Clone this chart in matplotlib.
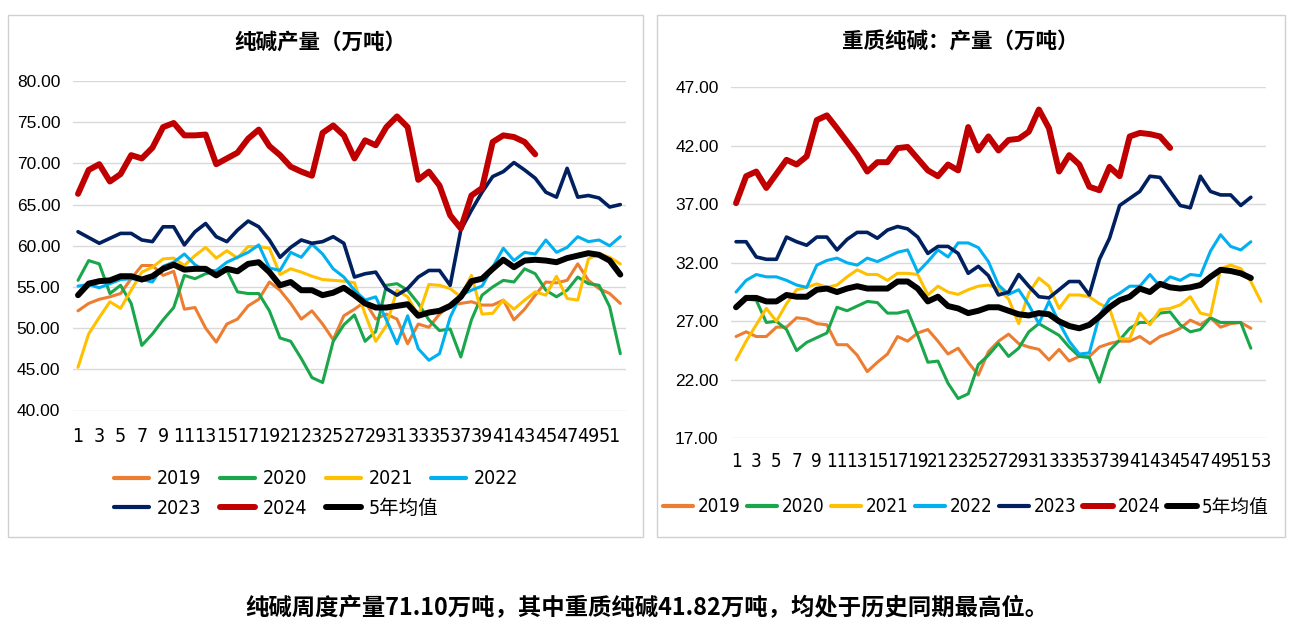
import matplotlib
matplotlib.use("Agg")
import matplotlib.pyplot as plt
from matplotlib import font_manager as fm
from matplotlib.font_manager import FontProperties
from matplotlib.patches import Rectangle
from matplotlib.lines import Line2D

# ---------------- data ----------------
series_names = ["2019", "2020", "2021", "2022", "2023", "2024", "5年均值"]
series_colors = ["#ED7D31", "#1AA64A", "#FFC000", "#00B0F0", "#002060", "#C00000", "#000000"]
series_widths = [2.2, 2.2, 2.2, 2.2, 2.6, 4.3, 4.3]

# left chart: 纯碱产量（万吨）
left_2019 = [52.1, 53.0, 53.5, 53.8, 54.2, 56.0, 57.6, 57.6, 56.4, 56.9,
             52.3, 52.5, 50.0, 48.3, 50.5, 51.1, 52.7, 53.5, 55.6, 54.6,
             53.0, 51.1, 52.1, 50.5, 48.6, 51.5, 52.3, 53.2, 51.1, 51.7,
             51.1, 48.1, 50.5, 50.1, 51.7, 52.8, 53.0, 53.2, 52.8, 52.8,
             53.4, 51.0, 52.3, 54.0, 55.6, 55.5, 55.8, 57.8, 55.8, 54.8, 54.2, 53.0]
left_2020 = [55.8, 58.2, 57.8, 54.2, 55.2, 53.0, 47.9, 49.3, 51.0, 52.5,
             56.4, 56.0, 56.6, 56.9, 57.0, 54.4, 54.2, 54.2, 52.1, 48.8,
             48.4, 46.3, 44.0, 43.4, 48.4, 50.4, 51.6, 48.4, 49.6, 55.2,
             55.4, 54.6, 53.0, 51.0, 49.7, 49.9, 46.5, 51.0, 54.0, 55.0,
             55.8, 55.6, 57.2, 56.6, 54.6, 53.8, 54.6, 56.2, 55.4, 55.2, 52.6, 46.9]
left_2021 = [45.25, 49.3, 51.3, 53.2, 52.4, 54.6, 56.8, 57.4, 58.4, 58.5,
             57.6, 58.8, 59.8, 58.5, 59.4, 58.5, 59.9, 59.9, 59.7, 56.5,
             57.2, 56.8, 56.3, 55.9, 55.8, 55.7, 55.5, 51.7, 48.4, 50.3,
             54.6, 53.8, 51.5, 55.3, 55.2, 54.8, 53.8, 56.4, 51.7, 51.8,
             53.4, 52.3, 53.4, 54.4, 54.0, 56.3, 53.6, 53.4, 58.4, 59.0, 58.6, 57.8]
left_2022 = [55.1, 55.3, 54.9, 55.4, 55.9, 56.0, 55.9, 55.6, 57.5, 58.0,
             59.0, 57.7, 56.9, 57.0, 58.0, 58.6, 59.2, 60.1, 57.3, 57.0,
             59.2, 58.6, 60.2, 59.0, 57.2, 56.2, 54.6, 53.4, 53.8, 51.0,
             48.1, 51.5, 47.5, 46.1, 46.9, 51.3, 54.0, 54.6, 55.1, 57.4,
             59.7, 58.2, 59.2, 59.0, 60.7, 59.2, 59.8, 61.1, 60.5, 60.7, 60.0, 61.1]
left_2023 = [61.7, 61.0, 60.3, 60.9, 61.5, 61.5, 60.7, 60.5, 62.3, 62.3,
             60.1, 61.7, 62.7, 61.1, 60.5, 61.9, 63.0, 62.3, 60.7, 58.6,
             59.8, 60.7, 60.3, 60.5, 61.1, 60.3, 56.2, 56.6, 56.8, 54.8,
             54.0, 54.8, 56.2, 57.0, 57.0, 55.2, 61.9, 64.3, 66.5, 68.4,
             69.0, 70.1, 69.2, 68.2, 66.5, 65.9, 69.4, 65.9, 66.1, 65.8, 64.7, 65.0]
left_2024 = [66.3, 69.2, 69.9, 67.8, 68.7, 71.0, 70.6, 71.9, 74.4, 74.9,
             73.4, 73.4, 73.5, 69.9, 70.6, 71.3, 73.0, 74.1, 72.1, 71.0,
             69.6, 69.0, 68.5, 73.7, 74.6, 73.4, 70.6, 72.8, 72.2, 74.4,
             75.7, 74.4, 68.0, 69.0, 67.3, 63.7, 62.1, 66.1, 67.0, 72.6,
             73.4, 73.2, 72.6, 71.1]
left_avg = [54.0, 55.4, 55.7, 55.8, 56.3, 56.3, 55.9, 56.3, 57.2, 57.7,
            57.1, 57.2, 57.2, 56.4, 57.2, 56.9, 57.8, 58.0, 56.8, 55.2,
            55.6, 54.6, 54.6, 54.0, 54.3, 54.9, 54.0, 53.0, 52.5, 52.5,
            52.7, 52.9, 51.5, 51.9, 52.1, 52.7, 53.8, 55.7, 56.0, 57.2,
            58.3, 57.4, 58.2, 58.3, 58.2, 58.0, 58.5, 58.8, 59.1, 58.9, 58.2, 56.5]

# right chart: 重质纯碱：产量（万吨）
right_2019 = [25.7, 26.1, 25.7, 25.7, 26.5, 26.5, 27.3, 27.2, 26.8, 26.7,
              25.0, 25.0, 24.1, 22.7, 23.5, 24.2, 25.7, 25.3, 26.0, 26.3,
              25.3, 24.2, 24.7, 23.5, 22.4, 24.4, 25.3, 25.9, 25.1, 24.8,
              24.6, 23.7, 24.6, 23.6, 24.0, 24.0, 24.8, 25.1, 25.3, 25.3,
              25.7, 25.1, 25.7, 26.0, 26.4, 27.1, 26.7, 27.3, 26.5, 26.8, 26.9, 26.4]
right_2020 = [28.2, 28.9, 28.8, 26.9, 27.0, 26.3, 24.5, 25.2, 25.6, 26.0,
              28.2, 27.9, 28.3, 28.7, 28.6, 27.7, 27.7, 27.9, 25.8, 23.5,
              23.6, 21.7, 20.4, 20.8, 23.3, 24.1, 25.1, 24.0, 24.7, 26.1,
              26.8, 26.3, 25.8, 24.8, 24.0, 23.9, 21.8, 24.5, 25.4, 26.4,
              26.9, 26.9, 27.7, 27.8, 26.7, 26.1, 26.3, 27.3, 26.9, 26.9, 26.9, 24.7]
right_2021 = [23.7, 25.3, 26.7, 28.1, 27.0, 28.5, 29.7, 29.9, 30.2, 29.9,
              30.1, 30.8, 31.4, 31.0, 31.0, 30.5, 31.1, 31.1, 31.0, 29.25,
              30.0, 29.5, 29.3, 29.7, 30.0, 30.1, 29.8, 28.9, 26.8, 29.4,
              30.7, 30.0, 28.1, 29.25, 29.25, 29.1, 28.5, 28.1, 25.5, 25.5,
              27.7, 26.7, 28.0, 28.1, 28.4, 29.1, 27.7, 27.5, 31.5, 31.8, 31.5, 30.4, 28.7]
right_2022 = [29.5, 30.5, 31.0, 30.8, 30.8, 30.5, 30.1, 29.9, 31.8, 32.2,
              32.4, 32.0, 31.8, 32.4, 32.1, 32.5, 32.9, 33.1, 31.2, 32.1,
              33.1, 32.5, 33.7, 33.7, 33.3, 32.1, 30.1, 29.3, 29.7, 28.4,
              26.8, 28.7, 26.9, 25.3, 24.2, 24.3, 27.5, 28.9, 29.4, 30.0,
              30.0, 31.0, 30.0, 30.8, 30.5, 31.0, 30.9, 33.0, 34.4, 33.4, 33.1, 33.8]
right_2023 = [33.8, 33.8, 32.5, 32.3, 32.3, 34.2, 33.8, 33.5, 34.2, 34.2,
              33.1, 34.0, 34.6, 34.6, 34.1, 34.8, 35.1, 34.9, 34.2, 32.8,
              33.4, 33.4, 32.8, 31.1, 31.7, 30.9, 29.25, 29.5, 31.0, 30.0,
              29.1, 29.0, 29.7, 30.4, 30.4, 29.25, 32.3, 34.1, 36.9, 37.5,
              38.1, 39.4, 39.3, 38.1, 36.9, 36.7, 39.4, 38.1, 37.8, 37.8, 36.9, 37.6]
right_2024 = [37.1, 39.4, 39.8, 38.4, 39.6, 40.8, 40.4, 41.1, 44.2, 44.6,
              43.5, 42.35, 41.2, 39.8, 40.6, 40.6, 41.8, 41.9, 40.9, 39.9,
              39.4, 40.4, 39.9, 43.6, 41.6, 42.8, 41.6, 42.5, 42.6, 43.2,
              45.1, 43.5, 39.8, 41.2, 40.4, 38.5, 38.2, 40.2, 39.4, 42.8,
              43.1, 43.0, 42.8, 41.82]
right_avg = [28.2, 29.0, 29.0, 28.7, 28.7, 29.25, 29.1, 29.1, 29.7, 29.8,
             29.5, 29.8, 30.0, 29.8, 29.8, 29.8, 30.4, 30.4, 29.8, 28.7,
             29.1, 28.3, 28.1, 27.7, 27.9, 28.2, 28.2, 27.9, 27.6, 27.5,
             27.7, 27.6, 27.0, 26.6, 26.4, 26.7, 27.4, 28.2, 28.8, 29.1,
             29.8, 29.5, 30.2, 29.9, 29.8, 29.9, 30.1, 30.8, 31.4, 31.3, 31.1, 30.7]

left_title = "纯碱产量（万吨）"
right_title = "重质纯碱：产量（万吨）"
left_weeks = 52
right_weeks = 53
left_yticks = [40, 45, 50, 55, 60, 65, 70, 75, 80]
right_yticks = [17, 22, 27, 32, 37, 42, 47]
caption = "纯碱周度产量71.10万吨，其中重质纯碱41.82万吨，均处于历史同期最高位。"

# ---------------- fonts ----------------
names = {f.name for f in fm.fontManager.ttflist}
if "Liberation Sans Narrow" in names:
    narrow = dict(family=["Liberation Sans Narrow", "Noto Sans CJK SC"])
else:
    narrow = dict(family=["DejaVu Sans", "Noto Sans CJK SC"], stretch="condensed")
plain = ["Liberation Sans", "DejaVu Sans"]
cjk = ["Noto Sans CJK SC", "DejaVu Sans"]

W, H = 1293, 634
fig = plt.figure(figsize=(W / 100, H / 100), dpi=100)
fig.patch.set_facecolor("white")

def fx(px):
    return px / W

def fy(py):
    return 1 - py / H

# panel frames
for x0, x1 in [(8, 643), (657, 1285)]:
    fig.patches.append(Rectangle((fx(x0), fy(537)), fx(x1 - x0), (537 - 15) / H,
                                 transform=fig.transFigure, fill=False,
                                 edgecolor="#D0D0D0", linewidth=1.0))

def draw(ax, data, nweeks, yticks, xlab_size, xpad):
    for vals, name, col, lw in zip(data, series_names, series_colors, series_widths):
        x = list(range(1, len(vals) + 1))
        ax.plot(x, vals, color=col, lw=lw, label=name,
                solid_joinstyle="round", solid_capstyle="round")
    ax.set_xlim(0.5, nweeks + 0.5)
    ax.set_ylim(yticks[0], yticks[-1])
    ax.set_yticks(yticks)
    ax.set_yticklabels([f"{v:.2f}" for v in yticks], fontfamily=plain, fontsize=12.5)
    xt = list(range(1, nweeks + 1, 2))
    ax.set_xticks(xt)
    ax.set_xticklabels([str(v) for v in xt], fontsize=xlab_size, **narrow)
    ax.tick_params(axis="both", length=0)
    ax.tick_params(axis="x", pad=xpad)
    ax.tick_params(axis="y", pad=9)
    for s in ax.spines.values():
        s.set_visible(False)
    ax.grid(axis="y", color="#D9D9D9", lw=1.0)
    ax.set_axisbelow(True)

axL = fig.add_axes([fx(72.7), fy(410.5), fx(625.6 - 72.7), (410.5 - 81) / H])
draw(axL, [left_2019, left_2020, left_2021, left_2022, left_2023, left_2024, left_avg],
     left_weeks, left_yticks, 14, 12)

axR = fig.add_axes([fx(731), fy(438.3), fx(1266 - 731), (438.3 - 87.3) / H])
draw(axR, [right_2019, right_2020, right_2021, right_2022, right_2023, right_2024, right_avg],
     right_weeks, right_yticks, 13.5, 10)

fig.text(fx(320), fy(42), left_title, ha="center", va="center",
         fontsize=15.5, fontweight="bold", family=cjk)
fig.text(fx(960), fy(42), right_title, ha="center", va="center",
         fontsize=15.5, fontweight="bold", family=cjk)

# legends (handles slightly thicker, as in the reference)
handles = [Line2D([], [], color=c, lw=max(w, 3.0), solid_capstyle="round")
           for c, w in zip(series_colors, series_widths)]
lp = FontProperties(size=14, **narrow)
fig.legend(handles[:4], series_names[:4], loc="center left", bbox_to_anchor=(fx(114), fy(479)),
           ncol=4, frameon=False, prop=lp, handlelength=1.8, handletextpad=0.4,
           columnspacing=0.95, borderaxespad=0, borderpad=0)
fig.legend(handles[4:], series_names[4:], loc="center left", bbox_to_anchor=(fx(114), fy(508)),
           ncol=3, frameon=False, prop=lp, handlelength=1.8, handletextpad=0.4,
           columnspacing=0.95, borderaxespad=0, borderpad=0)
lpR = FontProperties(size=13.5, **narrow)
fig.legend(handles, series_names, loc="center", bbox_to_anchor=(fx(966), fy(507)),
           ncol=7, frameon=False, prop=lpR, handlelength=1.6, handletextpad=0.25,
           columnspacing=0.35, borderaxespad=0, borderpad=0)

fig.text(0.5, fy(608), caption, ha="center", va="center",
         fontsize=16.8, fontweight="bold", family=cjk)

fig.savefig("out.png", dpi=100)
